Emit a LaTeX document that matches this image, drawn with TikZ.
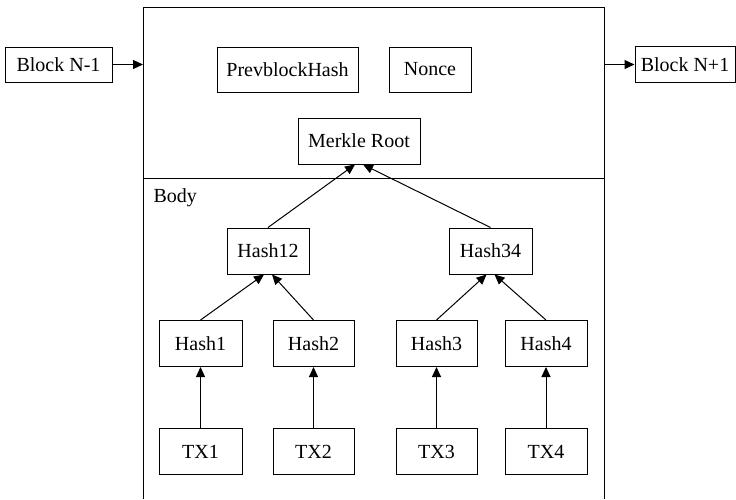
\documentclass[tikz,border=0pt]{standalone}
\usepackage{fontspec}
\setmainfont{Liberation Serif}
\usetikzlibrary{arrows.meta}

\tikzset{
    box/.style={draw, line width=1pt, inner sep=0pt, minimum height=46pt, font=\fontsize{20}{24}\selectfont},
    conn/.style={line width=1pt, -{Triangle[length=10pt,width=9pt]}},
}

\begin{document}
\begin{tikzpicture}[x=1pt,y=-1pt]
    \useasboundingbox (0,0) rectangle (736,499);
    % the block itself
    \draw[line width=1pt] (143,499) -- (143,7) -- (604,7) -- (604,499);
    \draw[line width=1pt] (143,178) -- (604,178);
    \node[anchor=west,font=\fontsize{20}{24}\selectfont] (body) at (150,198) {Body};
    \coordinate (inL) at (143,64.5);
    \coordinate (outR) at (604,64.5);
    % neighbours
    \node[box,minimum width=107pt,minimum height=35pt] (bprev) at (58.5,64.5) {Block N-1};
    \node[box,minimum width=100pt,minimum height=36pt] (bnext) at (685,64.5) {Block N+1};
    \draw[conn] (bprev) -- (inL);
    \draw[conn] (outR) -- (bnext);
    % header
    \node[box,minimum width=141pt,minimum height=45pt] (prev) at (287.5,69.5) {PrevblockHash};
    \node[box,minimum width=82pt,minimum height=45pt] (nonce) at (430,69.5) {Nonce};
    \node[box,minimum width=122pt] (root) at (359,141) {Merkle Root};
    % merkle tree
    \node[box,minimum width=82pt] (h12) at (268,251) {Hash12};
    \node[box,minimum width=83pt] (h34) at (490.5,251) {Hash34};
    \node[box,minimum width=83pt] (h1) at (200.5,343.5) {Hash1};
    \node[box,minimum width=81pt] (h2) at (313.5,343.5) {Hash2};
    \node[box,minimum width=81pt] (h3) at (436.5,343.5) {Hash3};
    \node[box,minimum width=82pt] (h4) at (546,343.5) {Hash4};
    \node[box,minimum width=83pt] (tx1) at (200.5,451.5) {TX1};
    \node[box,minimum width=81pt] (tx2) at (313.5,451.5) {TX2};
    \node[box,minimum width=81pt] (tx3) at (436.5,451.5) {TX3};
    \node[box,minimum width=82pt] (tx4) at (546,451.5) {TX4};
    \draw[conn] (h12.north) -- ([xshift=-4pt]root.south);
    \draw[conn] (h34.north) -- ([xshift=4pt]root.south);
    \draw[conn] (h1.north) -- ([xshift=-4pt]h12.south);
    \draw[conn] (h2.north) -- ([xshift=4pt]h12.south);
    \draw[conn] (h3.north) -- ([xshift=-4pt]h34.south);
    \draw[conn] (h4.north) -- ([xshift=4pt]h34.south);
    \draw[conn] (tx1) -- (h1);
    \draw[conn] (tx2) -- (h2);
    \draw[conn] (tx3) -- (h3);
    \draw[conn] (tx4) -- (h4);
\end{tikzpicture}
\end{document}
